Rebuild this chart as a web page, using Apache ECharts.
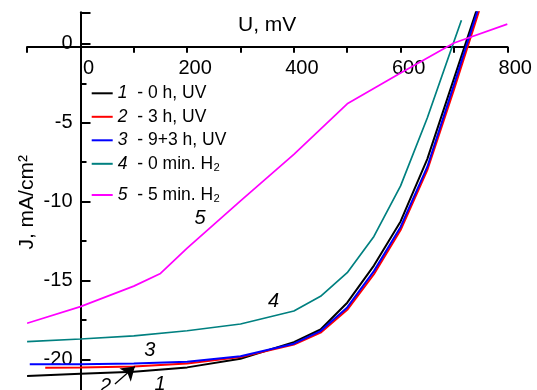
<!DOCTYPE html>
<html><head><meta charset="utf-8">
<script src="https://cdn.jsdelivr.net/npm/echarts@6/dist/echarts.min.js"></script>
<style>html,body{margin:0;padding:0;background:#fff}#c{width:537px;height:390px}</style>
</head><body><div id="c"></div>
<script>
// ---- data (U in mV, J in mA/cm^2) ----
const u1 = [-100, 0, 100, 200, 300, 400, 450, 500, 550, 600, 650, 700, 750];
const j1 = [-21.05, -20.9, -20.78, -20.5, -19.95, -18.9, -18.1, -16.4, -14.05, -11.25, -7.3, -2.2, 2.9];
const u2 = [-66, 0, 100, 200, 300, 400, 450, 500, 550, 600, 650, 700, 750];
const j2 = [-20.52, -20.5, -20.45, -20.25, -19.85, -19.05, -18.3, -16.85, -14.6, -11.8, -8.0, -2.9, 2.4];
const u3 = [-95, 0, 100, 200, 300, 400, 450, 500, 550, 600, 650, 700, 750];
const j3 = [-20.3, -20.3, -20.25, -20.15, -19.8, -19.0, -18.2, -16.7, -14.4, -11.6, -7.8, -2.6, 2.7];
const u4 = [-100, 0, 100, 200, 300, 400, 450, 500, 550, 600, 650, 700, 714];
const j4 = [-18.87, -18.7, -18.5, -18.18, -17.75, -16.93, -16.0, -14.5, -12.2, -9.0, -4.7, 0.15, 1.5];
const u5 = [-100, 0, 100, 150, 200, 300, 400, 500, 600, 700, 800];
const j5 = [-17.7, -16.65, -15.35, -14.55, -12.95, -9.95, -7.0, -3.8, -1.85, 0.05, 1.25];

const seriesNames = ['1', '2', '3', '4', '5'];
const legendLabels = {
  '1': '{n|1}{t| - 0 h, UV}',
  '2': '{n|2}{t| - 3 h, UV}',
  '3': '{n|3}{t| - 9+3 h, UV}',
  '4': '{n|4}{t| - 0 min. H₂}',
  '5': '{n|5}{t| - 5 min. H₂}'
};
const xTickLabels = [0, 200, 400, 600, 800];
const yTickLabels = [0, -5, -10, -15, -20];
// curve annotations (data coordinates) and arrow
const notes = [
  {s: 4, name: '5', coord: [224, -11.05]},
  {s: 3, name: '4', coord: [362, -16.35]},
  {s: 2, name: '3', coord: [130, -19.4]},
  {s: 0, name: '1', coord: [149, -21.6]},
  {s: 1, name: '2', coord: [47, -21.7]}
];
const arrowFrom = [64.6, -21.55];
const arrowTo = [102, -20.45];

const FONT = '"Liberation Sans", Arial, sans-serif';
const colors = ['#000000', '#ff0000', '#0000ff', '#008080', '#ff00ff'];
const widths = [2, 2, 2, 1.7, 1.7];
const allU = [u1, u2, u3, u4, u5];
const allJ = [j1, j2, j3, j4, j5];

const legendRich = {
  n: {fontFamily: FONT, fontSize: 17.5, fontStyle: 'italic', lineHeight: 18, padding: [0, 5, 0, 0], color: '#000'},
  t: {fontFamily: FONT, fontSize: 17.5, lineHeight: 18, color: '#000'}
};

const series = seriesNames.map((nm, i) => {
  const s = {
    name: nm, type: 'line', symbol: 'none', showSymbol: false, smooth: false,
    data: allU[i].map((u, k) => [u, allJ[i][k]]),
    lineStyle: {color: colors[i], width: widths[i]},
    itemStyle: {color: colors[i]},
    emphasis: {disabled: true},
    clip: true, z: 2 + i
  };
  const mine = notes.filter(a => a.s === i);
  if (mine.length) {
    s.markPoint = {
      symbol: 'circle', symbolSize: 0, silent: true,
      label: {show: true, position: 'inside', formatter: '{b}', color: '#000',
        fontFamily: FONT, fontSize: 20, fontStyle: 'italic'},
      data: mine.map(a => ({name: a.name, coord: a.coord}))
    };
  }
  if (i === 1) {
    s.markLine = {
      silent: true, symbol: ['none', 'arrow'], symbolSize: 13,
      lineStyle: {color: '#000', width: 1.3, type: 'solid'},
      itemStyle: {color: '#000'},
      label: {show: false},
      data: [[{coord: arrowFrom}, {coord: arrowTo}]]
    };
  }
  return s;
});

const legendCommon = {
  orient: 'vertical', left: 91.7, padding: 0, icon: 'rect',
  itemWidth: 21, itemHeight: 2, selectedMode: false,
  formatter: n => legendLabels[n], textStyle: {rich: legendRich}
};

const chart = echarts.init(document.getElementById('c'), null, {renderer: 'canvas'});
chart.setOption({
  animation: false,
  backgroundColor: '#ffffff',
  grid: {left: 27.1, right: 29.7, top: 12.3, bottom: -48.4, containLabel: false, outerBoundsMode: 'none'},
  xAxis: {
    type: 'value', min: -100, max: 800, interval: 100, position: 'top', offset: -34.4,
    axisLine: {onZero: false, lineStyle: {color: '#000', width: 2}},
    axisTick: {inside: true, length: 6, lineStyle: {color: '#000', width: 2}},
    axisLabel: {inside: true, margin: 12, color: '#000', fontFamily: FONT, fontSize: 20,
      padding: [0, 0, 0, 16],
      formatter: v => (xTickLabels.indexOf(v) >= 0 ? String(v) : '')},
    splitLine: {show: false},
    name: 'U, mV', nameLocation: 'middle', nameGap: 11, nameMoveOverlap: false,
    nameTextStyle: {color: '#000', fontFamily: FONT, fontSize: 21}
  },
  yAxis: {
    type: 'value', min: -25, max: 2, interval: 5, position: 'left', offset: -53.4,
    axisLine: {onZero: false, lineStyle: {color: '#000', width: 2}},
    axisTick: {inside: true, length: 10, lineStyle: {color: '#000', width: 2}},
    minorTick: {show: true, splitNumber: 2, length: 6, lineStyle: {color: '#000', width: 2}},
    axisLabel: {margin: 8, color: '#000', fontFamily: FONT, fontSize: 20, padding: [0, 0, 6, 0],
      formatter: v => (yTickLabels.indexOf(v) >= 0 ? String(v) : '')},
    splitLine: {show: false}, minorSplitLine: {show: false},
    name: 'J, mA/cm²', nameLocation: 'middle', nameRotate: 90, nameGap: 43, nameMoveOverlap: false,
    nameTextStyle: {color: '#000', fontFamily: FONT, fontSize: 21, padding: [0, 0, 0, 46]}
  },
  legend: [
    Object.assign({data: ['1', '2', '3', '4'], top: 84.3, itemGap: 5.5}, legendCommon),
    Object.assign({data: ['5'], top: 186}, legendCommon)
  ],
  series: series
});
</script></body></html>
